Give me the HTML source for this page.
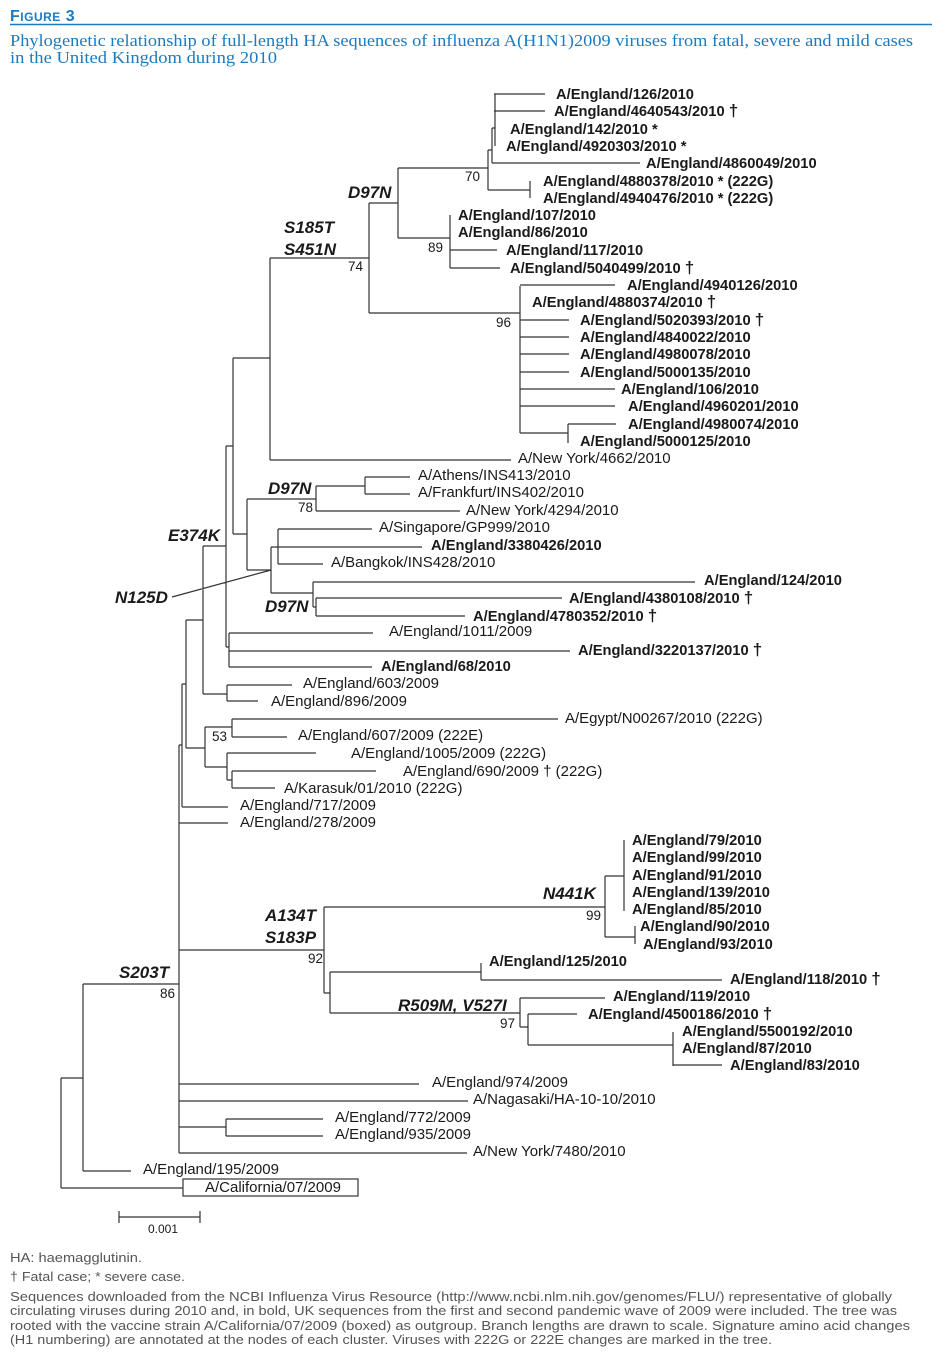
<!DOCTYPE html>
<html><head><meta charset="utf-8">
<style>
html,body{margin:0;padding:0;background:#fff;}
svg{display:block;}
.b{font:bold 14.7px "Liberation Sans",Arial,sans-serif;fill:#1a1a1a;}
.r{font:15px "Liberation Sans",Arial,sans-serif;fill:#1a1a1a;}
.m{font:italic bold 17px "Liberation Sans",Arial,sans-serif;fill:#1a1a1a;}
.n{font:13.5px "Liberation Sans",Arial,sans-serif;fill:#1a1a1a;}
.f{font:13px "Liberation Sans Narrow","Liberation Sans",sans-serif;fill:#555;}
.t{font:17px "Liberation Serif",serif;fill:#1b7bc0;}
.d{font-size:17px;}
</style></head><body>
<svg width="949" height="1353" viewBox="0 0 949 1353" xmlns="http://www.w3.org/2000/svg">
<text x="10" y="21" style="font:bold 16px 'Liberation Sans Narrow','Liberation Sans',sans-serif;fill:#1b7bc0;letter-spacing:0.5px">F<tspan style="font-size:12px">IGURE</tspan> 3</text>
<line x1="10" y1="24.5" x2="932" y2="24.5" stroke="#1b7bc0" stroke-width="1.6"/>
<text class="t" x="10" y="46" textLength="903" lengthAdjust="spacingAndGlyphs">Phylogenetic relationship of full-length HA sequences of influenza A(H1N1)2009 viruses from fatal, severe and mild cases</text>
<text class="t" x="10" y="63" textLength="267" lengthAdjust="spacingAndGlyphs">in the United Kingdom during 2010</text>

<path fill="none" stroke="#333" stroke-width="1.2" d="
M494 94H545M494 111H545M495 94V146
M492 128H495M492 128V163M492 163H640
M488 150H492M488 150V190M488 190H530M530 181V198
M398 168H488M398 168V238M398 238H450M450 215V268M450 250H497M450 268H500
M369 203H398M369 203V313M369 313H520M520 286V433
M520 285H615M520 320H569M520 337H569M520 354H569M520 372H569M520 389H615M520 406H615M520 433H568M568 424V443M568 424H616
M270 258H369M270 258V460M270 460H511
M233 358H270M233 358V534M233 534H247M247 499V570M247 499H316M316 486V511M316 486H365M365 477V494M365 477H410M365 494H410M316 511H460
M247 570H271M271 547V593M271 547H422M278 529V564M278 529H372M278 564H323M271 593H313M313 582V607M313 607H316M316 598V616M313 582H695M316 598H562M316 616H465
M226 446H233M226 446V647M226 647H229M229 633V667M229 633H373M229 651H570M229 667H372
M203 546H226M203 546V694M203 694H227M227 685V701M227 685H292M227 701H258
M186 620H203M186 620V748M186 748H205M205 727V767M205 727H232M232 719V737M232 719H558M232 737H287M205 767H227M227 753V780M227 753H316M227 780H232M232 771V788M232 771H376M232 788H275
M182 684H186M182 684V807M182 807H228
M179 745H182M179 745V1153M179 823H228M179 950H324M324 907V993M324 907H605M605 876V937M605 876H624M624 840V911M605 937H635M635 926V944
M324 993H330M330 972V1013M330 972H481M481 963V980M481 980H722M330 1013H520M520 998V1027M520 998H605M520 1027H528M528 1014V1045M528 1014H577M528 1045H673M673 1032V1066M673 1065H722
M179 1084H419M179 1101H468M179 1127H226M226 1119V1136M226 1119H323M226 1136H323M179 1153H467
M83 984H179M83 984V1171M83 1171H131M61 1078H83M61 1078V1188M61 1188H183
M172 597L271 570
M119 1217H200M119 1211V1223M200 1211V1223"/>
<rect x="183" y="1179" width="175" height="17" fill="none" stroke="#333" stroke-width="1.2"/>

<g class="b">
<text x="556" y="99">A/England/126/2010</text>
<text x="554" y="116">A/England/4640543/2010 <tspan class="d">†</tspan></text>
<text x="510" y="134">A/England/142/2010 *</text>
<text x="506" y="151">A/England/4920303/2010 *</text>
<text x="646" y="168">A/England/4860049/2010</text>
<text x="543" y="186">A/England/4880378/2010 * (222G)</text>
<text x="543" y="203">A/England/4940476/2010 * (222G)</text>
<text x="458" y="220">A/England/107/2010</text>
<text x="458" y="237">A/England/86/2010</text>
<text x="506" y="255">A/England/117/2010</text>
<text x="510" y="273">A/England/5040499/2010 <tspan class="d">†</tspan></text>
<text x="627" y="290">A/England/4940126/2010</text>
<text x="532" y="307">A/England/4880374/2010 <tspan class="d">†</tspan></text>
<text x="580" y="325">A/England/5020393/2010 <tspan class="d">†</tspan></text>
<text x="580" y="342">A/England/4840022/2010</text>
<text x="580" y="359">A/England/4980078/2010</text>
<text x="580" y="377">A/England/5000135/2010</text>
<text x="621" y="394">A/England/106/2010</text>
<text x="628" y="411">A/England/4960201/2010</text>
<text x="628" y="429">A/England/4980074/2010</text>
<text x="580" y="446">A/England/5000125/2010</text>
<text x="431" y="550">A/England/3380426/2010</text>
<text x="704" y="585">A/England/124/2010</text>
<text x="569" y="603">A/England/4380108/2010 <tspan class="d">†</tspan></text>
<text x="473" y="621">A/England/4780352/2010 <tspan class="d">†</tspan></text>
<text x="578" y="655">A/England/3220137/2010 <tspan class="d">†</tspan></text>
<text x="381" y="671">A/England/68/2010</text>
<text x="632" y="845">A/England/79/2010</text>
<text x="632" y="862">A/England/99/2010</text>
<text x="632" y="880">A/England/91/2010</text>
<text x="632" y="897">A/England/139/2010</text>
<text x="632" y="914">A/England/85/2010</text>
<text x="640" y="931">A/England/90/2010</text>
<text x="643" y="949">A/England/93/2010</text>
<text x="489" y="966">A/England/125/2010</text>
<text x="730" y="984">A/England/118/2010 <tspan class="d">†</tspan></text>
<text x="613" y="1001">A/England/119/2010</text>
<text x="588" y="1019">A/England/4500186/2010 <tspan class="d">†</tspan></text>
<text x="682" y="1036">A/England/5500192/2010</text>
<text x="682" y="1053">A/England/87/2010</text>
<text x="730" y="1070">A/England/83/2010</text>
</g>
<g class="r">
<text x="518" y="463">A/New York/4662/2010</text>
<text x="418" y="480">A/Athens/INS413/2010</text>
<text x="418" y="497">A/Frankfurt/INS402/2010</text>
<text x="466" y="515">A/New York/4294/2010</text>
<text x="379" y="532">A/Singapore/GP999/2010</text>
<text x="331" y="567">A/Bangkok/INS428/2010</text>
<text x="389" y="636">A/England/1011/2009</text>
<text x="303" y="688">A/England/603/2009</text>
<text x="271" y="706">A/England/896/2009</text>
<text x="565" y="723">A/Egypt/N00267/2010 (222G)</text>
<text x="298" y="740">A/England/607/2009 (222E)</text>
<text x="351" y="758">A/England/1005/2009 (222G)</text>
<text x="403" y="776">A/England/690/2009 † (222G)</text>
<text x="284" y="793">A/Karasuk/01/2010 (222G)</text>
<text x="240" y="810">A/England/717/2009</text>
<text x="240" y="827">A/England/278/2009</text>
<text x="432" y="1087">A/England/974/2009</text>
<text x="473" y="1104">A/Nagasaki/HA-10-10/2010</text>
<text x="335" y="1122">A/England/772/2009</text>
<text x="335" y="1139">A/England/935/2009</text>
<text x="473" y="1156">A/New York/7480/2010</text>
<text x="143" y="1174">A/England/195/2009</text>
<text x="205" y="1192">A/California/07/2009</text>
</g>
<g class="m">
<text x="348" y="198">D97N</text>
<text x="284" y="233">S185T</text>
<text x="284" y="255">S451N</text>
<text x="268" y="494">D97N</text>
<text x="168" y="541">E374K</text>
<text x="115" y="603">N125D</text>
<text x="265" y="612">D97N</text>
<text x="543" y="899">N441K</text>
<text x="265" y="921">A134T</text>
<text x="265" y="943">S183P</text>
<text x="398" y="1011">R509M, V527I</text>
<text x="119" y="978">S203T</text>
</g>
<g class="n">
<text x="465" y="181">70</text>
<text x="428" y="252">89</text>
<text x="348" y="271">74</text>
<text x="496" y="327">96</text>
<text x="298" y="512">78</text>
<text x="212" y="741">53</text>
<text x="586" y="920">99</text>
<text x="308" y="963">92</text>
<text x="500" y="1028">97</text>
<text x="160" y="998">86</text>
<text x="148" y="1233" style="font-size:12px">0.001</text>
</g>
<g class="f">
<text x="10" y="1262" textLength="132" lengthAdjust="spacingAndGlyphs">HA: haemagglutinin.</text>
<text x="10" y="1281" textLength="175" lengthAdjust="spacingAndGlyphs">† Fatal case; * severe case.</text>
<text x="10" y="1301" textLength="882" lengthAdjust="spacingAndGlyphs">Sequences downloaded from the NCBI Influenza Virus Resource (http://www.ncbi.nlm.nih.gov/genomes/FLU/) representative of globally</text>
<text x="10" y="1315" textLength="887" lengthAdjust="spacingAndGlyphs">circulating viruses during 2010 and, in bold, UK sequences from the first and second pandemic wave of 2009 were included. The tree was</text>
<text x="10" y="1330" textLength="900" lengthAdjust="spacingAndGlyphs">rooted with the vaccine strain A/California/07/2009 (boxed) as outgroup. Branch lengths are drawn to scale. Signature amino acid changes</text>
<text x="10" y="1344" textLength="762" lengthAdjust="spacingAndGlyphs">(H1 numbering) are annotated at the nodes of each cluster. Viruses with 222G or 222E changes are marked in the tree.</text>
</g>
</svg>
</body></html>
